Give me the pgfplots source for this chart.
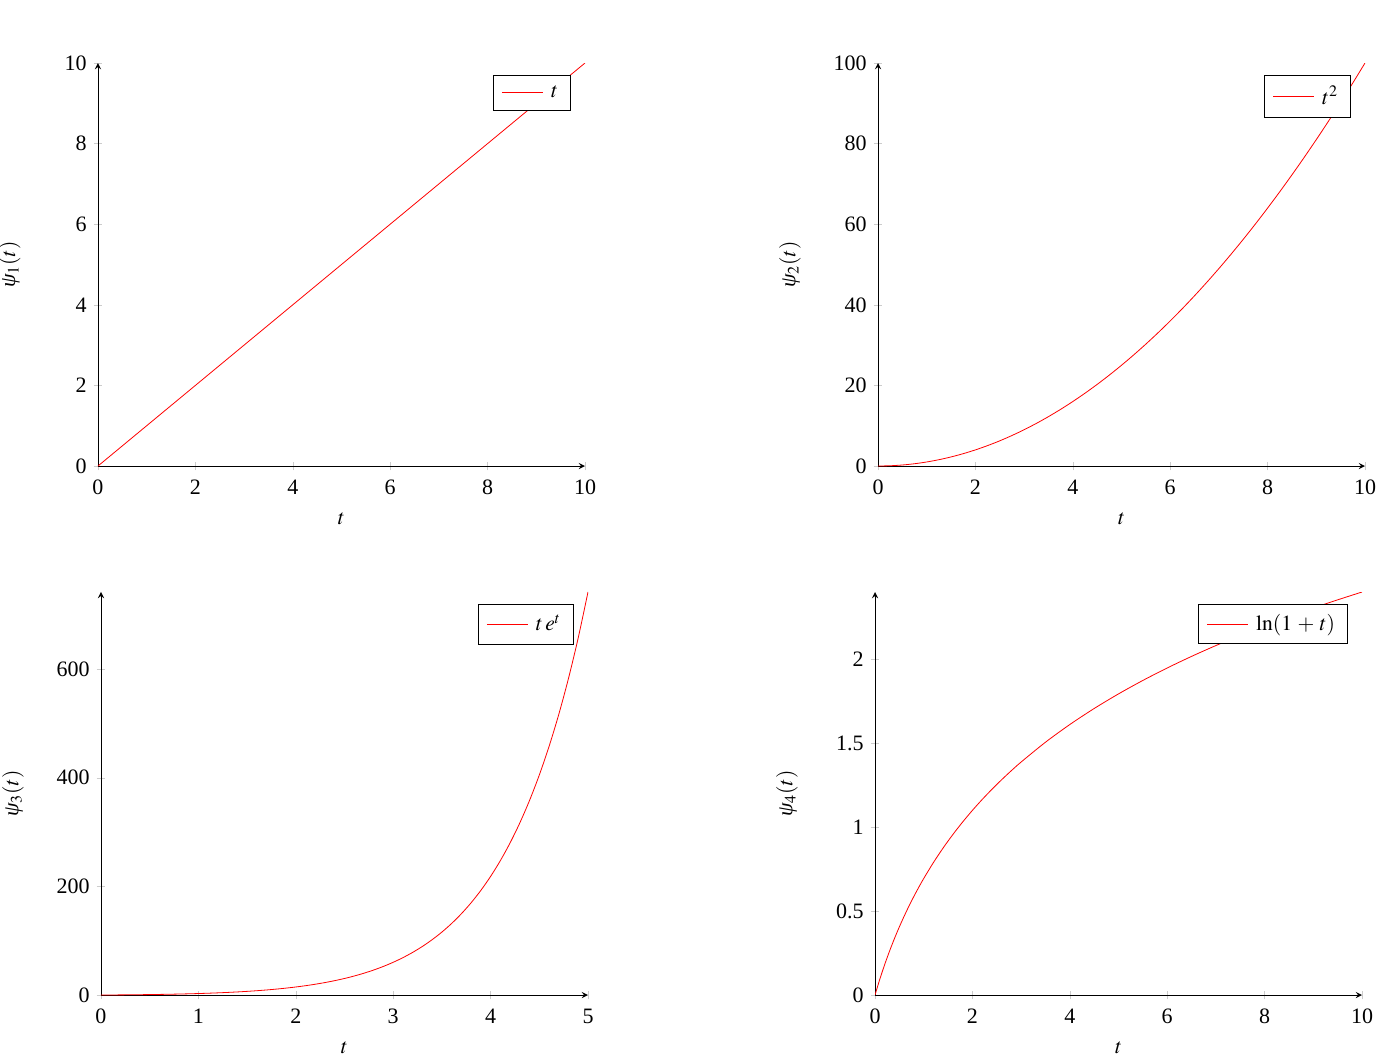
\documentclass[border=0pt]{standalone}
\usepackage{mathptmx}
\usepackage{fontspec}
\setmainfont{Liberation Serif}
\usepackage{pgfplots}
\pgfplotsset{compat=1.18}

\newcommand{\psilab}[1]{{\itshape ψ}$_{#1}(t)$}

\pgfplotsset{
  quad/.style={
    scale only axis,
    width=243.5pt, height=201.5pt,
    font=\fontsize{10.8}{13}\selectfont,
    tick label style={font=\fontsize{11}{13}\selectfont},
    /pgf/number format/assume math mode=true,
    xticklabel style={yshift=-1.5pt},
    axis lines=left,
    tick align=center,
    tick style={gray!40},
    xmin=0, ymin=0,
    xlabel={$t$},
    x label style={at={(axis description cs:0.5,0)}, anchor=center, yshift=-26.5pt},
    y label style={at={(axis description cs:-0.158,0.5)}, anchor=south, inner sep=0pt},
    legend pos=north east,
    legend cell align=left,
    legend style={inner xsep=4pt, inner ysep=3pt},
    legend image code/.code={\draw[#1, line width=0.5pt] (0cm,0cm) -- (0.72cm,0cm);},
  }
}

\begin{document}
\begin{tikzpicture}
\path[use as bounding box] (-49pt,-295pt) rectangle (639pt,233pt);

% psi_1
\begin{axis}[quad, at={(0pt,0pt)}, anchor=south west,
  xmax=10, ymax=10, ylabel={\psilab{1}}]
\addplot[red] coordinates {(0,0) (10,10)};
\addlegendentry{\,$t$}
\end{axis}

% psi_2
\begin{axis}[quad, at={(390pt,0pt)}, anchor=south west,
  xmax=10, ymax=100, ylabel={\psilab{2}}]
\addplot[red, smooth] coordinates {
(0,0) (0.25,0.0625) (0.5,0.25) (0.75,0.5625) (1,1) (1.25,1.5625) (1.5,2.25)
(1.75,3.0625) (2,4) (2.25,5.0625) (2.5,6.25) (2.75,7.5625) (3,9)
(3.25,10.5625) (3.5,12.25) (3.75,14.0625) (4,16) (4.25,18.0625) (4.5,20.25)
(4.75,22.5625) (5,25) (5.25,27.5625) (5.5,30.25) (5.75,33.0625) (6,36)
(6.25,39.0625) (6.5,42.25) (6.75,45.5625) (7,49) (7.25,52.5625) (7.5,56.25)
(7.75,60.0625) (8,64) (8.25,68.0625) (8.5,72.25) (8.75,76.5625) (9,81)
(9.25,85.5625) (9.5,90.25) (9.75,95.0625) (10,100)};
\addlegendentry{\,$t^2$}
\end{axis}

% psi_3
\begin{axis}[quad, at={(1.5pt,-264.5pt)}, anchor=south west,
  xmax=5, ymax=742.07, ytick={0,200,400,600}, ylabel={\psilab{3}}]
\addplot[red, smooth] coordinates {
(0,0) (0.1,0.1105) (0.2,0.2443) (0.3,0.4050) (0.4,0.5967) (0.5,0.8244)
(0.6,1.0933) (0.7,1.4096) (0.8,1.7804) (0.9,2.2136) (1,2.7183)
(1.1,3.3046) (1.2,3.9841) (1.3,4.7701) (1.4,5.6773) (1.5,6.7225)
(1.6,7.9248) (1.7,9.3057) (1.8,10.8894) (1.9,12.7032) (2,14.7781)
(2.1,17.1490) (2.2,19.8550) (2.3,22.9406) (2.4,26.4557) (2.5,30.4562)
(2.6,35.0056) (2.7,40.1752) (2.8,46.0449) (2.9,52.7049) (3,60.2566)
(3.1,68.8138) (3.2,78.5040) (3.3,89.4716) (3.4,101.878) (3.5,115.904)
(3.6,131.754) (3.7,149.655) (3.8,169.865) (3.9,192.669) (4,218.393)
(4.1,247.395) (4.2,280.082) (4.3,316.909) (4.4,358.384) (4.5,405.077)
(4.6,457.628) (4.7,516.751) (4.8,583.248) (4.9,658.021) (5,742.066)};
\addlegendentry{\,$t\,e^t$}
\end{axis}

% psi_4
\begin{axis}[quad, at={(388.5pt,-264.5pt)}, anchor=south west,
  xmax=10, ymax=2.398, ytick={0,0.5,1,1.5,2}, ylabel={\psilab{4}}]
\addplot[red, smooth] coordinates {
(0,0) (0.1,0.09531) (0.2,0.18232) (0.3,0.26236) (0.4,0.33647) (0.5,0.40547)
(0.6,0.47000) (0.7,0.53063) (0.8,0.58779) (0.9,0.64185) (1,0.69315)
(1.2,0.78846) (1.4,0.87547) (1.6,0.95551) (1.8,1.02962) (2,1.09861)
(2.2,1.16315) (2.4,1.22378) (2.6,1.28093) (2.8,1.33500) (3,1.38629)
(3.5,1.50408) (4,1.60944) (4.5,1.70475) (5,1.79176) (5.5,1.87180)
(6,1.94591) (6.5,2.01490) (7,2.07944) (7.5,2.14007) (8,2.19722)
(8.5,2.25129) (9,2.30259) (9.5,2.35138) (10,2.39790)};
\addlegendentry{\,$\ln(1\,+\,t)$}
\end{axis}
\end{tikzpicture}
\end{document}
